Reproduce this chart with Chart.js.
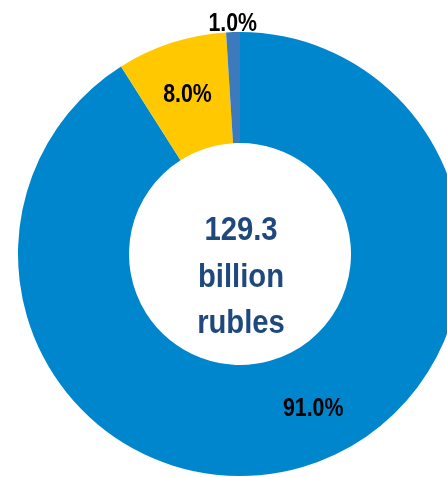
<!DOCTYPE html>
<html>
<head>
<meta charset="utf-8">
<script src="https://cdn.jsdelivr.net/npm/chart.js@4/dist/chart.umd.min.js"></script>
<style>
   html, body { margin: 0; padding: 0; background: #fff; overflow: hidden; }
   #wrap { position: absolute; left: 0; top: 0; width: 480px; height: 477px; }
</style>
</head>
<body>
<div id="wrap"><canvas id="donut"></canvas></div>
<script>
const categories = ["Main", "Second", "Other"];
const shares = [91.0, 8.0, 1.0];
const sliceColors = ["#0086cd", "#ffc800", "#3b7bbd"];
const centerLines = ["129.3", "billion", "rubles"];
const fontFamily = "'Liberation Sans', Arial, sans-serif";

// where each percent label sits, as a fraction of outer radius and shift of angle (rad)
const labelRadius = [0.76, 0.766, 1.047];
const labelAngleShift = [-0.166, 0, 0];

// draw text squeezed horizontally (the original uses a narrow face)
function narrowText(ctx, text, x, y, squeeze) {
   ctx.save();
   ctx.translate(x, y);
   ctx.scale(squeeze, 1);
   ctx.fillText(text, 0, 0);
   ctx.restore();
}

const sliceLabels = {
   id: "sliceLabels",
   afterDatasetsDraw(chart) {
      const ctx = chart.ctx;
      const meta = chart.getDatasetMeta(0);
      ctx.save();
      ctx.font = "bold 26px " + fontFamily;
      ctx.fillStyle = "#000";
      ctx.textAlign = "center";
      ctx.textBaseline = "alphabetic";
      meta.data.forEach((arc, i) => {
         const p = arc.getProps(["x", "y", "startAngle", "endAngle", "outerRadius"], true);
         const mid = (p.startAngle + p.endAngle) / 2 + labelAngleShift[i];
         const r = p.outerRadius * labelRadius[i];
         narrowText(ctx, shares[i].toFixed(1) + "%", p.x + Math.cos(mid) * r, p.y + Math.sin(mid) * r + 9.5, 0.82);
      });

      // total in the hole
      const c = meta.data[0];
      ctx.font = "bold 34px " + fontFamily;
      ctx.fillStyle = "#1f497d";
      centerLines.forEach((line, i) => {
         narrowText(ctx, line, c.x + 1, c.y - 14 + i * 46.5, 0.86);
      });
      ctx.restore();
   },
};

new Chart(document.getElementById("donut"), {
   type: "doughnut",
   data: {
      labels: categories,
      datasets: [
         {
            data: shares,
            backgroundColor: sliceColors,
            borderWidth: 0,
         },
      ],
   },
   options: {
      responsive: true,
      maintainAspectRatio: false,
      animation: false,
      cutout: "50%",
      layout: { padding: { top: 32, bottom: 1, left: 18, right: 18 } },
      plugins: {
         legend: { display: false },
         tooltip: { enabled: false },
      },
   },
   plugins: [sliceLabels],
});
</script>
</body>
</html>
